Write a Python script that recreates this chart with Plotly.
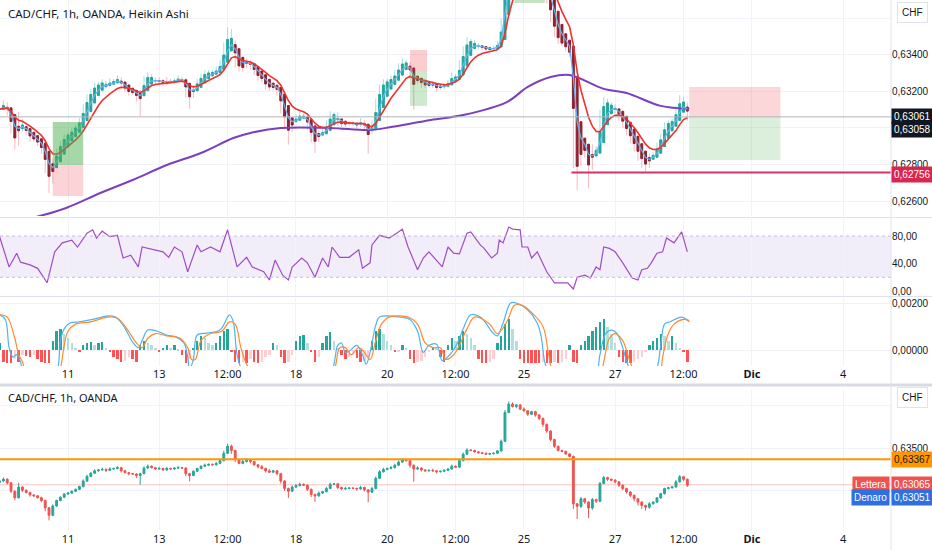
import pandas as pd
import plotly.graph_objects as go

# CAD/CHF 1h chart, read off the screenshot as 2h bars
# time axis = trading hours since Mon 11 Nov 00:00 (weekends dropped)
bar_h0 = -36
bar_step = 2
first_open = 0.63095

closes = [
    0.63110, 0.63132, 0.63088, 0.62989, 0.62912, 0.63038, 0.63000, 0.62973, 0.62945, 0.62934,
    0.62912, 0.62879, 0.62792, 0.62704, 0.62814, 0.62879, 0.62918, 0.62956, 0.62967, 0.62989,
    0.63011, 0.63044, 0.63110, 0.63164, 0.63203, 0.63230, 0.63241, 0.63247, 0.63236, 0.63252,
    0.63258, 0.63268, 0.63230, 0.63208, 0.63197, 0.63192, 0.63175, 0.63197, 0.63263, 0.63285,
    0.63268, 0.63252, 0.63258, 0.63241, 0.63258, 0.63252, 0.63263, 0.63268, 0.63263, 0.63197,
    0.63175, 0.63225, 0.63258, 0.63285, 0.63296, 0.63307, 0.63301, 0.63318, 0.63351, 0.63438,
    0.63521, 0.63471, 0.63362, 0.63318, 0.63340, 0.63362, 0.63340, 0.63301, 0.63279, 0.63258,
    0.63230, 0.63214, 0.63230, 0.63197, 0.63110, 0.63022, 0.62989, 0.63038, 0.63055, 0.63071,
    0.63060, 0.63011, 0.62951, 0.62934, 0.62967, 0.62984, 0.63022, 0.63071, 0.63077, 0.63033,
    0.63016, 0.63022, 0.63027, 0.63022, 0.63016, 0.63033, 0.63005, 0.62978, 0.63022, 0.63142,
    0.63219, 0.63247, 0.63258, 0.63268, 0.63296, 0.63334, 0.63362, 0.63351, 0.63296, 0.63252,
    0.63263, 0.63241, 0.63230, 0.63236, 0.63230, 0.63219, 0.63225, 0.63236, 0.63252, 0.63285,
    0.63274, 0.63351, 0.63427, 0.63477, 0.63471, 0.63455, 0.63444, 0.63438, 0.63427, 0.63433,
    0.63438, 0.63466, 0.63580, 0.63920, 0.64020, 0.63990, 0.64010, 0.63960, 0.63940, 0.63900,
    0.63930, 0.63890, 0.63850, 0.63780, 0.63700, 0.63600, 0.63520, 0.63470, 0.63460, 0.63430,
    0.63400, 0.62840, 0.62810, 0.62900, 0.62860, 0.62790, 0.62890, 0.62870, 0.63080, 0.63150,
    0.63130, 0.63120, 0.63100, 0.63060, 0.63020, 0.62980, 0.62940, 0.62900, 0.62860, 0.62820,
    0.62800, 0.62840, 0.62860, 0.62910, 0.62960, 0.63020, 0.63030, 0.63040, 0.63100, 0.63160,
    0.63130, 0.63060,
]

# wick lengths in pips beyond the body
wick_up = [
    1, 2, 1, 1, 1, 5, 1, 1, 1, 1,
    1, 1, 1, 1, 2, 1, 1, 1, 1, 1,
    1, 1, 2, 2, 1, 2, 1, 2, 1, 2,
    1, 2, 1, 1, 1, 1, 1, 1, 2, 2,
    1, 1, 2, 1, 2, 1, 1, 2, 1, 1,
    1, 1, 1, 1, 2, 1, 1, 2, 2, 3,
    3, 2, 1, 1, 2, 2, 1, 1, 1, 2,
    1, 2, 1, 1, 1, 1, 1, 2, 2, 2,
    1, 1, 1, 1, 2, 1, 2, 2, 1, 1,
    1, 2, 1, 1, 1, 2, 1, 1, 2, 2,
    2, 2, 1, 2, 2, 2, 2, 1, 1, 1,
    2, 1, 1, 1, 2, 1, 1, 1, 1, 2,
    1, 2, 2, 2, 1, 1, 1, 1, 1, 1,
    1, 1, 2, 3, 3, 2, 1, 1, 2, 1,
    1, 1, 1, 1, 1, 1, 1, 1, 1, 1,
    1, 1, 1, 2, 1, 1, 2, 1, 2, 2,
    1, 1, 1, 1, 1, 1, 1, 1, 1, 1,
    1, 2, 1, 1, 1, 1, 1, 1, 2, 2,
    1, 1,
]
wick_dn = [
    1, 1, 2, 2, 3, 1, 2, 1, 2, 1,
    1, 2, 4, 6, 1, 1, 1, 1, 1, 1,
    1, 1, 1, 1, 1, 1, 1, 1, 2, 1,
    1, 1, 2, 1, 2, 1, 3, 11, 1, 1,
    1, 1, 1, 1, 1, 1, 1, 1, 1, 3,
    7, 1, 1, 1, 1, 1, 1, 1, 1, 1,
    1, 4, 3, 1, 1, 1, 2, 1, 2, 1,
    2, 1, 1, 2, 3, 3, 8, 1, 1, 1,
    1, 2, 3, 7, 1, 1, 1, 1, 1, 2,
    1, 1, 1, 1, 2, 1, 2, 12, 1, 1,
    1, 1, 1, 1, 1, 1, 1, 1, 3, 15,
    1, 2, 1, 1, 1, 2, 1, 1, 1, 1,
    1, 1, 1, 1, 1, 1, 1, 1, 1, 1,
    1, 1, 1, 1, 1, 1, 2, 1, 1, 2,
    1, 2, 2, 3, 2, 2, 2, 1, 1, 1,
    1, 6, 15, 2, 2, 12, 2, 2, 1, 1,
    2, 1, 2, 2, 2, 2, 2, 3, 4, 4,
    4, 2, 1, 1, 1, 1, 1, 1, 1, 1,
    2, 2,
]

macd_hist = [
    0.0003, -0.0005, -0.00055, -0.00055, -0.0004, -0.0005, -0.0002, -0.00025, -0.0003, -0.0002,
    -0.0004, -0.0005, -0.00055, -0.00055, 0.0004, 0.0008, 0.0009, 0.0007, 0.0005, 0.0003,
    0.0001, -0.00005, 0.0002, 0.0003, 0.00035, 0.0002, 0.0003, 0.00035, 0.0001, -0.0001,
    -0.0003, -0.0004, -0.0005, -0.00045, -0.0003, -0.0004, -0.0005, 0.0002, 0.0004, 0.0003,
    0.0002, 0.0001, -0.0001, 0.0001, 0.0002, 0.0001, 0.0002, 0.00005, -0.0002, -0.00055,
    -0.0004, 0.0001, 0.0004, 0.0006, 0.0005, 0.0003, 0.0002, 0.0003, 0.0006, 0.0008,
    0.0009, -0.0001, -0.0005, -0.00055, -0.0005, -0.00055, -0.0004, -0.0005, -0.00055, -0.0005,
    -0.0003, -0.0002, 0.0003, 0.0002, -0.0003, -0.00055, -0.0005, -0.0002, 0.0004, 0.0006,
    0.00065, 0.0003, -0.0001, -0.0005, -0.0003, 0.0003, 0.0006, 0.00075, 0.0004, 0.0001,
    -0.0002, -0.0004, -0.0003, -0.0002, -0.00035, -0.0005, -0.00045, -0.0003, 0.0004, 0.0008,
    0.0009, 0.0007, 0.0004, 0.0002, -0.0001, -0.00005, 0.0002, 0.0001, -0.0004, -0.00055,
    -0.0005, -0.00045, -0.0003, -0.0001, 0.00015, 0.0001, -0.0003, -0.0005, 0.0002, 0.0005,
    0.0004, 0.0006, 0.0008, 0.0007, 0.0005, 0.0002, -0.0004, -0.00055, -0.00055, -0.0005,
    -0.0004, 0.0003, 0.0006, 0.0011, 0.0013, 0.0009, 0.0004, -0.0004, -0.00055, -0.00055,
    -0.00055, -0.00055, -0.00055, -0.0005, -0.00055, -0.00055, -0.0005, -0.00055, -0.0005, -0.0004,
    0.0002, -0.0005, -0.00055, 0.0002, 0.0004, 0.0006, 0.0008, 0.001, 0.0012, 0.0013,
    0.001, 0.0007, 0.0003, -0.0003, -0.0005, -0.00055, -0.00055, -0.0005, -0.0004, -0.0003,
    -0.0001, 0.0002, 0.0004, 0.0005, 0.0007, 0.0006, 0.0004, 0.0006, 0.0003, 0.0001,
    -0.0001, -0.0005,
]

# long moving average (purple)
sma_h = [-17, -1, 17, 34, 52, 70, 87, 96, 112, 138, 159, 170, 191, 208, 231, 242, 254, 264, 282, 294, 312, 327]
sma_v = [0.62512, 0.62562, 0.62644, 0.62715, 0.62797, 0.62863, 0.62945, 0.62973, 0.63000, 0.63000, 0.62989,
         0.63005, 0.63044, 0.63071, 0.63142, 0.63225, 0.63279, 0.63290, 0.63214, 0.63192, 0.63121, 0.63105]

rsi_h = [-36, -34, -31, -27, -25, -20, -16, -11, -7, -3, 2, 5, 10, 13, 15, 18, 22, 26, 29, 33,
         37, 39, 45, 50, 53, 56, 60, 63, 68, 70, 75, 80, 84, 89, 94, 97, 103, 106, 109, 113,
         116, 118, 123, 126, 130, 134, 137, 139, 143, 148, 153, 155, 159, 160, 164, 169, 173, 176, 179, 184,
         187, 190, 197, 200, 203, 206, 210, 212, 217, 219, 223, 226, 227, 229, 232, 234, 238, 239, 242, 244,
         247, 252, 255, 256, 263, 266, 268, 272, 275, 278, 280, 282, 285, 288, 292, 297, 300, 302, 305, 307,
         310, 313, 315, 319, 323, 326]
rsi_v = [79, 62, 35, 55, 42, 38, 33, 12, 57, 70, 74, 64, 84, 89, 77, 87, 79, 81, 48, 52,
         35, 64, 60, 57, 49, 64, 57, 28, 67, 57, 64, 57, 89, 35, 49, 35, 28, 16, 45, 23,
         16, 35, 48, 41, 20, 48, 35, 64, 49, 49, 60, 33, 41, 67, 81, 77, 84, 90, 64, 31,
         48, 57, 35, 64, 55, 54, 84, 86, 67, 62, 48, 55, 74, 70, 93, 90, 89, 64, 64, 48,
         57, 28, 16, 12, 12, 3, 20, 23, 19, 35, 31, 64, 62, 57, 41, 19, 16, 31, 33, 41,
         55, 57, 77, 70, 86, 57]

macd_h = [-36, -33, -31, -29, -27, -25, -23, -12, -7, -5, -4, -2, 1, 6, 13, 21, 25, 29, 34, 37,
          39, 42, 47, 52, 57, 61, 63, 64, 66, 68, 73, 80, 84, 85, 87, 89, 92, 101, 122, 138,
          142, 144, 146, 148, 152, 155, 157, 159, 162, 164, 175, 180, 184, 187, 190, 194, 197, 201, 205, 208,
          212, 217, 224, 226, 229, 233, 236, 242, 247, 249, 252, 259, 277, 280, 283, 286, 289, 292, 295, 301,
          309, 312, 314, 317, 323, 327]
macd_v = [0.0015, 0.0013, 0.0001, -0.0003, -0.0002, -0.0005, -0.0012, -0.0015, -0.0012, -0.0006,
          0.0004, 0.0009, 0.00115, 0.0012, 0.0013, 0.00145, 0.0014, 0.00106, 0.00034, 0.0001,
          0.0004, 0.00085, 0.0008, 0.00064, 0.00055, 0.0003, -0.0003, -0.0008, -0.0004, 0.00064,
          0.00072, 0.00085, 0.0014, 0.0015, 0.0012, -0.0002, -0.0009, -0.0015, -0.0015, -0.001,
          0.0002, 0.0003, -0.0001, -0.00005, 0.0002, -0.0002, -0.0006, -0.0001, 0.00106, 0.0014,
          0.0014, 0.0013, 0.0008, -0.0001, 0.0002, 0.00025, -0.00045, -0.0002, 0.0003, 0.0009,
          0.0015, 0.0014, 0.0007, 0.0006, 0.00115, 0.002, 0.002, 0.0017, 0.00115, 0.0006,
          -0.0008, -0.0015, -0.0012, -0.0002, 0.0007, 0.00085, 0.0007, 0.0001, -0.0007, -0.0015,
          -0.001, 0.0002, 0.0011, 0.0012, 0.0014, 0.0012]

sig_h = [-36, -32, -28, -26, -24, -20, -7, -4, -2, 0, 4, 12, 21, 26, 31, 36, 39, 42, 46, 52,
         59, 63, 65, 67, 70, 75, 81, 85, 88, 91, 94, 101, 138, 141, 143, 146, 149, 153, 156, 159,
         162, 165, 169, 179, 184, 188, 192, 196, 199, 203, 206, 210, 214, 222, 226, 231, 235, 239, 244, 250,
         253, 255, 262, 279, 282, 285, 288, 292, 295, 298, 304, 311, 313, 316, 319, 324, 327]
sig_v = [0.0015, 0.0014, 0.0005, -0.0002, -0.0005, -0.0015, -0.0015, -0.0008, 0.0002, 0.0008,
         0.0011, 0.0012, 0.0014, 0.00135, 0.0009, 0.0003, 0.0001, 0.0005, 0.0007, 0.0006,
         0.0005, 0.0001, -0.0004, -0.0004, 0.0004, 0.0007, 0.0008, 0.0012, 0.0011, 0.0001,
         -0.0006, -0.0015, -0.0015, -0.0006, 0.0001, 0.0001, -0.0002, 0.0001, -0.0001, -0.0004,
         0.0004, 0.0011, 0.0014, 0.0014, 0.0011, 0.0003, 0.0001, 0.0001, -0.0004, -0.0002,
         0.0002, 0.0009, 0.0014, 0.0011, 0.0007, 0.0012, 0.0019, 0.0019, 0.0016, 0.0010,
         -0.0002, -0.0009, -0.0015, -0.0015, -0.0005, 0.0005, 0.0007, 0.0004, -0.0003, -0.0009,
         -0.0015, -0.0012, -0.0003, 0.0007, 0.0011, 0.0013, 0.00125]

tick_h = [0, 48, 84, 120, 168, 204, 240, 288, 324, 360, 408]
tick_txt = ["11", "13", "12:00", "18", "20", "12:00", "25", "27", "12:00", "<b>Dic</b>", "4"]

# drawing tools: (h start, h end, top, entry, bottom)
long_pos = (-8, 8, 0.63033, 0.62797, 0.62627)
short_pos = (180, 189, 0.63427, 0.63307, 0.63121)
short_pos2 = (327, 375, 0.63225, 0.63055, 0.62825)
green_top = (235, 251, 0.63685, 0.6400)
support = 0.62756
support_from = 265
last_price = 0.63061
prev_close = 0.63058
orange_level = 0.63367
ask, bid = 0.63065, 0.63051

n = len(closes)
bar_h = [bar_h0 + bar_step * i for i in range(n)]
opens = [first_open] + closes[:-1]
highs = [max(o, c) + w * 1e-4 for o, c, w in zip(opens, closes, wick_up)]
lows = [min(o, c) - w * 1e-4 for o, c, w in zip(opens, closes, wick_dn)]

# heikin ashi
ha_c = [(o + h + l + c) / 4 for o, h, l, c in zip(opens, highs, lows, closes)]
ha_o = []
for i in range(n):
    if i == 0:
        ha_o.append((opens[0] + closes[0]) / 2)
    else:
        ha_o.append((ha_o[i - 1] + ha_c[i - 1]) / 2)
ha_h = [max(a, b, c) for a, b, c in zip(highs, ha_o, ha_c)]
ha_l = [min(a, b, c) for a, b, c in zip(lows, ha_o, ha_c)]
body_h = [max(a, b) for a, b in zip(ha_o, ha_c)]
body_l = [min(a, b) for a, b in zip(ha_o, ha_c)]

ema_fast = pd.Series(ha_c).ewm(span=3, adjust=False).mean()
ema_slow = pd.Series(ha_c).ewm(span=8, adjust=False).mean()

hist_col = []
for i, v in enumerate(macd_hist):
    prev = macd_hist[i - 1] if i else 0
    if v >= 0:
        hist_col.append("#26a69a" if v >= prev else "#b2dfdb")
    else:
        hist_col.append("#ff5252" if v <= prev else "#ffcdd2")

fig = go.Figure()

fig.add_trace(go.Candlestick(
    x=bar_h, open=ha_o, high=ha_h, low=ha_l, close=ha_c, xaxis="x", yaxis="y",
    increasing=dict(line=dict(color="#a9dbd5", width=1), fillcolor="#a9dbd5"),
    decreasing=dict(line=dict(color="#f7b9bc", width=1), fillcolor="#f7b9bc"),
    hoverinfo="skip"))
fig.add_trace(go.Candlestick(
    x=bar_h, open=ha_o, high=body_h, low=body_l, close=ha_c, xaxis="x", yaxis="y",
    increasing=dict(line=dict(color="#26a69a", width=1), fillcolor="#26a69a"),
    decreasing=dict(line=dict(color="#8b2331", width=1), fillcolor="#8b2331"),
    hoverinfo="skip"))
fig.add_trace(go.Scatter(x=sma_h, y=sma_v, mode="lines", line=dict(color="#7b3fbf", width=2, shape="spline"),
                         xaxis="x", yaxis="y"))
fig.add_trace(go.Scatter(x=bar_h, y=ema_fast, mode="lines", line=dict(color="#64b5f6", width=1.2),
                         xaxis="x", yaxis="y"))
fig.add_trace(go.Scatter(x=bar_h, y=ema_slow, mode="lines", line=dict(color="#f0312f", width=1.6),
                         xaxis="x", yaxis="y"))

fig.add_trace(go.Scatter(x=rsi_h, y=rsi_v, mode="lines", line=dict(color="#a24bc4", width=1.2),
                         xaxis="x", yaxis="y2"))

fig.add_trace(go.Bar(x=bar_h, y=macd_hist, marker_color=hist_col, marker_line_width=0, width=1.3,
                     xaxis="x", yaxis="y3"))
fig.add_trace(go.Scatter(x=macd_h, y=macd_v, mode="lines", line=dict(color="#4fb3f0", width=1.2, shape="spline"),
                         xaxis="x", yaxis="y3"))
fig.add_trace(go.Scatter(x=sig_h, y=sig_v, mode="lines", line=dict(color="#ff8a30", width=1.2, shape="spline"),
                         xaxis="x", yaxis="y3"))

fig.add_trace(go.Candlestick(
    x=bar_h, open=opens, high=highs, low=lows, close=closes, xaxis="x2", yaxis="y4",
    increasing=dict(line=dict(color="#26a69a", width=1), fillcolor="#26a69a"),
    decreasing=dict(line=dict(color="#ef5350", width=1), fillcolor="#ef5350"),
    hoverinfo="skip"))

grid = "#f0f3fa"
txt = "#131722"
font = dict(family="Liberation Sans", size=10, color=txt)
xr = [-35.8, 433.2]
xend = 891 / 932
xdom = [0, xend]

shapes = []


def rect(x0, x1, y0, y1, color, yref="y"):
    shapes.append(dict(type="rect", xref="x", yref=yref, x0=x0, x1=x1, y0=y0, y1=y1,
                       fillcolor=color, line_width=0, layer="above"))


def hline(y, color, width=1, yref="y", x0=0, x1=1, xref="x domain", dash="solid"):
    shapes.append(dict(type="line", xref=xref, yref=yref, x0=x0, x1=x1, y0=y, y1=y,
                       line=dict(color=color, width=width, dash=dash)))


green = "rgba(76,175,80,{})"
red = "rgba(242,54,69,{})"
rect(long_pos[0], long_pos[1], long_pos[3], long_pos[2], green.format(0.5))
rect(long_pos[0], long_pos[1], long_pos[4], long_pos[3], red.format(0.22))
rect(short_pos[0], short_pos[1], short_pos[3], short_pos[2], red.format(0.25))
rect(short_pos[0], short_pos[1], short_pos[4], short_pos[3], green.format(0.28))
rect(short_pos2[0], short_pos2[1], short_pos2[3], short_pos2[2], red.format(0.2))
rect(short_pos2[0], short_pos2[1], short_pos2[4], short_pos2[3], green.format(0.2))
rect(green_top[0], green_top[1], green_top[2], green_top[3], green.format(0.35))

hline(last_price, "#b2b5be")
hline(support, "#d0336a", width=2, x0=support_from, x1=xr[1], xref="x")

# rsi band
shapes.append(dict(type="rect", xref="x domain", yref="y2", x0=0, x1=1, y0=20, y1=80,
                   fillcolor="rgba(126,87,194,0.1)", line_width=0, layer="below"))
hline(80, "#c9b8e0", yref="y2", dash="dot")
hline(20, "#c9b8e0", yref="y2", dash="dot")

hline(orange_level, "#ff9800", width=2, yref="y4")
hline(ask, "rgba(239,83,80,0.35)", yref="y4")

# pane separators and price scale border
for py in [217.5, 296.5]:
    shapes.append(dict(type="line", xref="paper", yref="paper", x0=0, x1=1, y0=1 - py / 550, y1=1 - py / 550,
                       line=dict(color="#e0e3eb", width=1)))
shapes.append(dict(type="line", xref="paper", yref="paper", x0=0, x1=1, y0=1 - 385 / 550, y1=1 - 385 / 550,
                   line=dict(color="#d8dbe2", width=3)))
shapes.append(dict(type="line", xref="paper", yref="paper", x0=xend, x1=xend, y0=0, y1=1,
                   line=dict(color="#e0e3eb", width=1)))

ann = []


def box(text, y, yref, bg, fc="white", yshift=0, x=xend, xanchor="left"):
    ann.append(dict(text=text, x=x, xref="paper", y=y, yref=yref, xanchor=xanchor, yanchor="middle",
                    showarrow=False, bgcolor=bg, borderpad=2, yshift=yshift,
                    font=dict(family="Liberation Sans", size=10, color=fc)))


box("0,63061", last_price, "y", "#131722")
box("0,63058", prev_close, "y", "#131722", yshift=-12)
box("0,62756", support, "y", "#d9264e", yshift=-2)
box("0,63367", orange_level, "y4", "#ff9800", fc=txt)
box("0,63065", ask, "y4", "#ef5350")
box("Lettera", ask, "y4", "#ef5350", x=xend - 0.001, xanchor="right")
box("0,63051", ask, "y4", "#2f6fe0", yshift=-13)
box("Denaro", ask, "y4", "#2f6fe0", yshift=-13, x=xend - 0.001, xanchor="right")

for yy in [12, 397]:
    ann.append(dict(text="CHF", x=912 / 932, xref="paper", y=1 - yy / 550, yref="paper", showarrow=False,
                    xanchor="center", yanchor="middle",
                    bgcolor="white", bordercolor="#e0e3eb", borderwidth=1, borderpad=4,
                    font=dict(family="Liberation Sans", size=10, color=txt)))

ann.append(dict(text="CAD/CHF, 1h, OANDA, Heikin Ashi", x=0.006, xref="paper", y=1 - 13 / 550, yref="paper",
                xanchor="left", yanchor="middle", showarrow=False, font=dict(family="Noto Sans", size=11.5, color=txt)))
ann.append(dict(text="CAD/CHF, 1h, OANDA", x=0.006, xref="paper", y=1 - 397 / 550, yref="paper",
                xanchor="left", yanchor="middle", showarrow=False, font=dict(family="Noto Sans", size=11, color=txt)))

xfont = dict(family="Noto Sans", size=11, color=txt)
xcommon = dict(range=xr, domain=xdom, tickvals=tick_h, ticktext=tick_txt, showgrid=True, gridcolor=grid,
               zeroline=False, showline=False, ticks="", tickfont=xfont, rangeslider=dict(visible=False),
               automargin=False)
ycommon = dict(side="right", showgrid=True, gridcolor=grid, zeroline=False, showline=False, ticks="",
               tickfont=font, anchor="x", automargin=False)

fig.update_layout(
    width=932, height=550, margin=dict(l=0, r=0, t=0, b=0, autoexpand=False),
    paper_bgcolor="white", plot_bgcolor="white", showlegend=False, hovermode=False,
    xaxis=dict(anchor="y3", **xcommon),
    xaxis2=dict(anchor="y4", **xcommon),
    yaxis=dict(domain=[0.6073, 1], range=[0.62518, 0.63701],
               tickvals=[0.626, 0.628, 0.630, 0.632, 0.634, 0.636],
               ticktext=["0,62600", "0,62800", "", "0,63200", "0,63400", ""], **ycommon),
    yaxis2=dict(domain=[0.4636, 0.6018], range=[-5.8, 104.7], tickvals=[0, 40, 80],
                ticktext=["0,00", "40,00", "80,00"], **{**ycommon, "showgrid": False}),
    yaxis3=dict(domain=[0.3345, 0.4582], range=[-0.000681, 0.002213], tickvals=[0, 0.002],
                ticktext=["0,00000", "0,00200"], **ycommon),
    yaxis4=dict(domain=[0.0345, 0.2927], range=[0.62518, 0.64198], tickvals=[0.630, 0.635, 0.640],
                ticktext=["", "0,63500", ""], **{**ycommon, "anchor": "x2"}),
    shapes=shapes, annotations=ann, bargap=0,
)

# page body has a default margin; drop it so the figure sits at the window corner
fig.write_html("out.html", config={"displayModeBar": False},
               post_script="document.body.style.margin='0';")
